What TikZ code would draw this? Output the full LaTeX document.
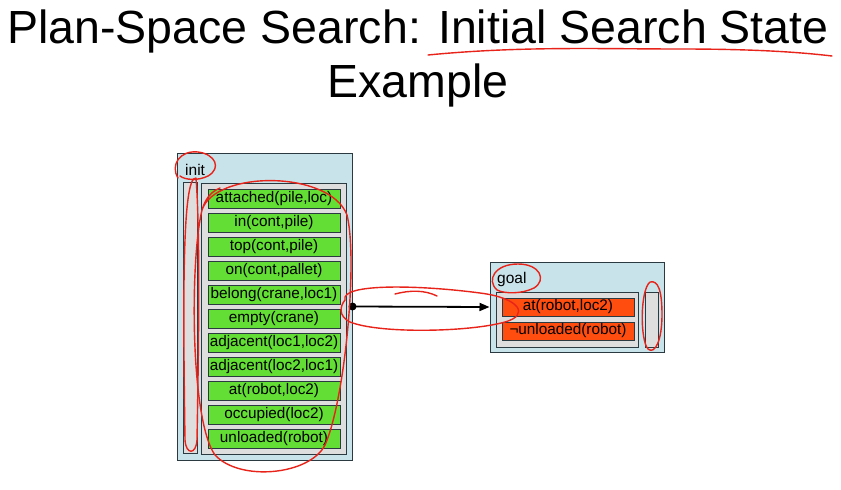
\documentclass[tikz,border=0pt]{standalone}
\usepackage{fontspec}
\setmainfont{Liberation Sans}
\usetikzlibrary{arrows.meta}
\definecolor{edge}{HTML}{2B3A40}
\definecolor{panelblue}{HTML}{C8E3EA}
\definecolor{bargrey}{HTML}{DEDEDE}
\definecolor{litgreen}{HTML}{62DE34}
\definecolor{goalred}{HTML}{FF4C0F}
\definecolor{annot}{HTML}{E8231A}
\tikzset{
  panel/.style={draw=edge, fill=panelblue, line width=1pt, inner sep=0pt},
  bar/.style={draw=edge, fill=bargrey, line width=1pt, inner sep=0pt},
  item/.style={draw=edge, line width=1pt, inner sep=0pt, minimum width=132pt,
    font=\fontsize{15.3}{17}\selectfont},
  litem/.style={item, fill=litgreen, minimum height=19pt},
  gitem/.style={item, fill=goalred, minimum height=18pt},
  lbl/.style={anchor=base west, inner sep=0pt, font=\fontsize{15.5}{17}\selectfont},
  titlefont/.style={anchor=base, inner sep=0pt, font=\fontsize{46.5}{50}\selectfont},
  redpen/.style={draw=annot, line width=1.4pt, line cap=round, line join=round},
}
\begin{document}
\begin{tikzpicture}[x=1pt, y=-1pt]
\useasboundingbox (0,0) rectangle (841,490);
\fill[white] (0,0) rectangle (841,490);

% title
\node[titlefont] (t1) at (418,43) {Plan-Space Search: Initial Search State};
\node[titlefont] (t2) at (418,97) {Example};

% init panel
\node[panel, minimum width=175pt, minimum height=307pt] (init) at (264.5,306.5) {};
\node[lbl] (initlbl) at (185,175) {init};
\node[bar, minimum width=14pt, minimum height=271pt] (ibar) at (190,317.5) {};
\node[bar, minimum width=145pt, minimum height=271pt] (ilist) at (273.5,318.5) {};
\foreach \t [count=\i from 0] in {attached(pile{,}loc), in(cont{,}pile), top(cont{,}pile),
  on(cont{,}pallet), belong(crane{,}loc1), empty(crane), adjacent(loc1{,}loc2),
  adjacent(loc2{,}loc1), at(robot{,}loc2), occupied(loc2), unloaded(robot)}
  \node[litem] (li\i) at (274,198.5+24.05*\i) {\t};

% goal panel
\node[panel, minimum width=174pt, minimum height=90pt] (goal) at (577,307) {};
\node[lbl] (goallbl) at (497,283) {goal};
\node[bar, minimum width=142pt, minimum height=55pt] (glist) at (567,319.5) {};
\node[bar, minimum width=13pt, minimum height=55pt] (gbar) at (651.5,319.5) {};
\node[gitem] (gi0) at (568,307) {at(robot,loc2)};
\node[gitem] (gi1) at (568,331) {¬unloaded(robot)};

% connector
\draw[line width=1.8pt, -{Triangle[length=10pt,width=8pt]}] (init.east) -- (goal.west);
\fill (init.east) circle (4pt);

% red hand annotations
\draw[redpen] (428,55) .. controls (520,46) and (600,49) .. (680,49) .. controls (740,49) and (790,51) .. (832,56);
\draw[redpen] (178,178) .. controls (170,165) and (180,150) .. (198,152) .. controls (215,154) and (222,168) .. (208,176) .. controls (198,181) and (185,180) .. (180,176);
\draw[redpen] (196,178) .. controls (182,176) and (183,300) .. (185,440) .. controls (186,455) and (196,455) .. (197,440) .. controls (199,330) and (200,230) .. (196,178);
\draw[redpen] (202,210) .. controls (215,170) and (330,170) .. (347,215) .. controls (358,260) and (345,400) .. (325,445) .. controls (310,475) and (240,482) .. (215,455) .. controls (190,420) and (190,260) .. (202,210) .. controls (205,200) and (210,192) .. (220,188);
\draw[redpen] (345,300) .. controls (340,283) and (420,285) .. (480,293) .. controls (520,298) and (530,315) .. (505,322) .. controls (470,332) and (380,334) .. (350,322) .. controls (338,316) and (340,306) .. (345,300);
\draw[redpen] (395,294) .. controls (410,290) and (425,290) .. (437,296);
\draw[redpen] (497,290) .. controls (486,280) and (495,264) .. (518,264) .. controls (540,264) and (547,280) .. (534,288) .. controls (522,294) and (505,294) .. (497,290);
\draw[redpen] (650,282) .. controls (640,290) and (640,340) .. (648,349) .. controls (655,355) and (662,340) .. (662,315) .. controls (662,290) and (658,280) .. (650,282);
\end{tikzpicture}
\end{document}
